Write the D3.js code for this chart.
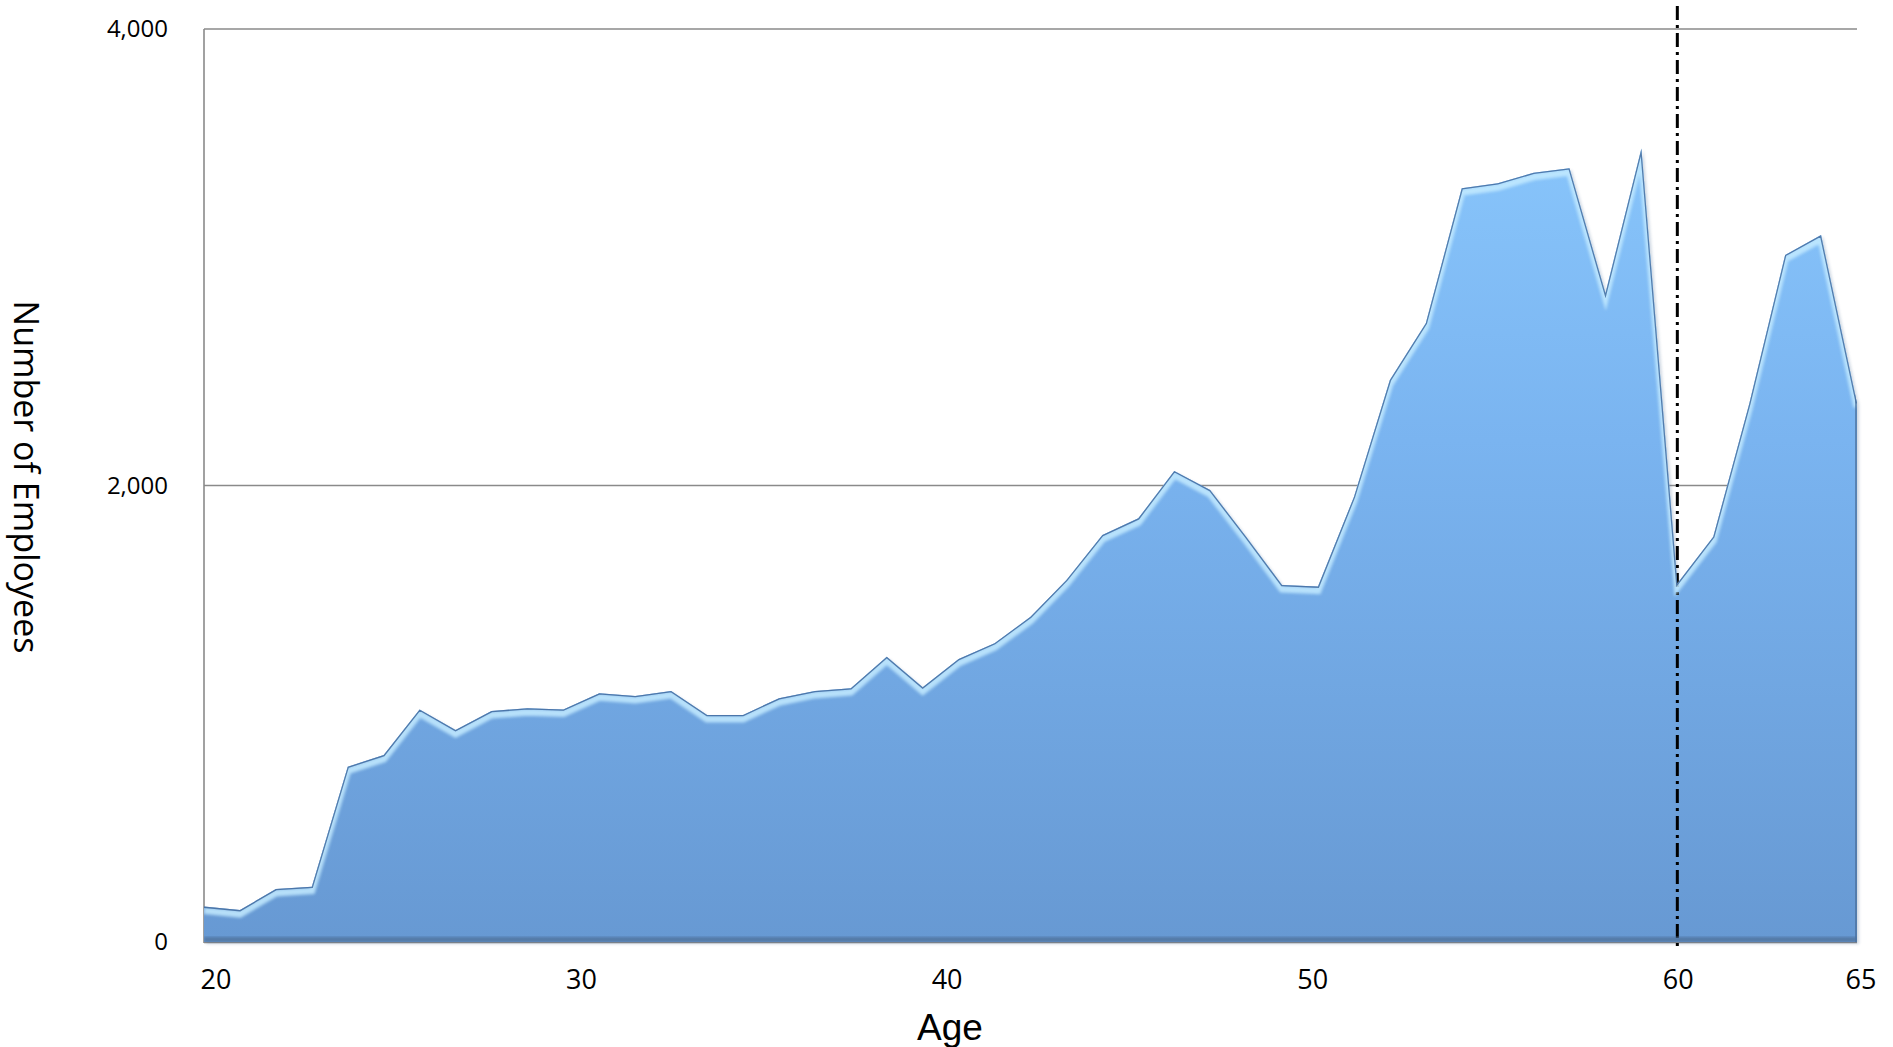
<!DOCTYPE html>
<html><head><meta charset="utf-8">
<script src="https://cdn.jsdelivr.net/npm/d3@7"></script>
<style>html,body{margin:0;padding:0;background:#fff;}svg{display:block;}</style>
</head><body>
<svg id="chart" width="1893" height="1047"></svg>
<script>
const ages = [19,20,21,22,23,24,25,26,27,28,29,30,31,32,33,34,35,36,37,38,39,40,41,42,43,44,45,46,47,48,49,50,51,52,53,54,55,56,57,58,59,60,61,62,63,64,65];
const employees = [155,140,232,242,768,819,1019,929,1012,1024,1019,1090,1078,1100,995,995,1068,1100,1112,1250,1116,1240,1309,1425,1586,1783,1856,2064,1980,1776,1564,1557,1950,2462,2711,3302,3324,3370,3390,2842,3477,1571,1776,2357,3010,3097,2360];
const yTicks = [0, 2000, 4000];
const xTickLabels = [20, 30, 40, 50, 60, 65];
const retirementAge = 60;
const xTitle = "Age";
const yTitle = "Number of Employees";

const W = 1893, H = 1047;
const margin = {left: 204, top: 29, right: 36, bottom: 105};
const width = W - margin.left - margin.right;   // 1653
const height = H - margin.top - margin.bottom;  // 913

const svg = d3.select("#chart");
const defs = svg.append("defs");

const grad = defs.append("linearGradient").attr("id","fillGrad")
  .attr("gradientUnits","userSpaceOnUse").attr("x1",0).attr("y1",0).attr("x2",0).attr("y2",height);
grad.append("stop").attr("offset","0%").attr("stop-color","#8dcbff");
grad.append("stop").attr("offset","45%").attr("stop-color","#7ab4f0");
grad.append("stop").attr("offset","100%").attr("stop-color","#6799d3");

const blur = defs.append("filter").attr("id","soft").attr("x","-5%").attr("y","-5%").attr("width","110%").attr("height","110%");
blur.append("feGaussianBlur").attr("stdDeviation",1.4);

const g = svg.append("g").attr("transform",`translate(${margin.left},${margin.top})`);

const x = d3.scaleLinear().domain([ages[0], ages[ages.length-1]]).range([0, width]);
const xLabel = d3.scaleLinear().domain([20, 65]).range([12, width + 4]);
const y = d3.scaleLinear().domain([0, 4000]).range([height, 0]);

const data = ages.map((a,i)=>({age:a, v:employees[i]}));

// gridlines
g.append("g").selectAll("line").data(yTicks.filter(v=>v>0)).join("line")
  .attr("x1",0).attr("x2",width)
  .attr("y1",d=>y(d)).attr("y2",d=>y(d))
  .attr("stroke","#8a8a8a").attr("stroke-width",1.3);

// axis lines
g.append("line").attr("x1",0).attr("x2",0).attr("y1",0).attr("y2",height+1)
  .attr("stroke","#8a8a8a").attr("stroke-width",1.6);
g.append("line").attr("x1",0).attr("x2",width).attr("y1",height+0.5).attr("y2",height+0.5)
  .attr("stroke","#8a8a8a").attr("stroke-width",1.6);

const area = d3.area().x(d=>x(d.age)).y0(y(0)).y1(d=>y(d.v));
const line = d3.line().x(d=>x(d.age)).y(d=>y(d.v));

defs.append("clipPath").attr("id","areaClip")
  .append("path").attr("d", area(data)).attr("transform",`translate(${margin.left},${margin.top})`);

// shadow
g.append("path").attr("d", area(data)).attr("fill","#3b5f8a").attr("opacity",0.25)
  .attr("transform","translate(2,2)").attr("filter","url(#soft)");

g.append("path").attr("d", area(data)).attr("fill","url(#fillGrad)");

// bevel highlight and edges (clipped to area)
const clipped = svg.append("g").attr("clip-path","url(#areaClip)")
  .append("g").attr("transform",`translate(${margin.left},${margin.top})`);
clipped.append("path").attr("d", line(data)).attr("fill","none")
  .attr("stroke","#c4ebff").attr("stroke-width",7).attr("opacity",0.85)
  .attr("transform","translate(0,4)").attr("filter","url(#soft)");
clipped.append("path").attr("d", line(data)).attr("fill","none")
  .attr("stroke","#3a6398").attr("stroke-width",2.6).attr("opacity",0.8);
clipped.append("rect").attr("x",0).attr("width",width).attr("y",y(0)-5).attr("height",5)
  .attr("fill","#4f729c").attr("opacity",0.85).attr("filter","url(#soft)");
clipped.append("line").attr("x1",width-1).attr("x2",width-1).attr("y1",0).attr("y2",height)
  .attr("stroke","#4a6f9c").attr("stroke-width",2).attr("opacity",0.7);

// retirement line
g.append("line").attr("x1",x(retirementAge)).attr("x2",x(retirementAge))
  .attr("y1",-23).attr("y2",height+6)
  .attr("stroke","#000").attr("stroke-width",3).attr("stroke-dasharray","14,5,3,5");

// y tick labels
g.append("g").selectAll("text").data(yTicks).join("text")
  .attr("x",-36).attr("y",d=>y(d)).attr("dy","0.35em")
  .attr("text-anchor","end")
  .style("font-family","'Open Sans', sans-serif").style("font-size","24px").attr("fill","#000")
  .text(d=>d3.format(",")(d));

// x tick labels
g.append("g").selectAll("text").data(xTickLabels).join("text")
  .attr("x",d=>xLabel(d)).attr("y",height+38).attr("dy","0.35em")
  .attr("text-anchor","middle")
  .style("font-family","'Open Sans', sans-serif").style("font-size","27px").attr("fill","#000")
  .text(d=>d);

// titles
svg.append("text").attr("x",950).attr("y",1027).attr("dy","0.35em").attr("text-anchor","middle")
  .style("font-family","'Liberation Sans', Arial, sans-serif").style("font-size","37px").attr("fill","#000")
  .text(xTitle);
svg.append("text").attr("transform","translate(26,477) rotate(90)").attr("dy","0.35em").attr("text-anchor","middle")
  .style("font-family","'Open Sans', sans-serif").style("font-size","34px").attr("fill","#000")
  .text(yTitle);
</script>
</body></html>
